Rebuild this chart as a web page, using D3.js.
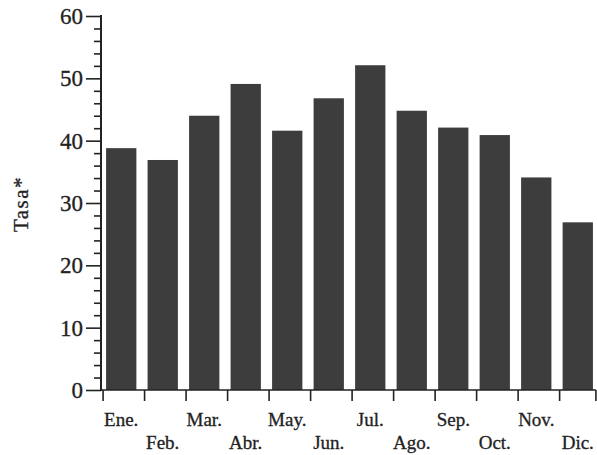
<!DOCTYPE html>
<html>
<head>
<meta charset="utf-8">
<script src="https://cdn.jsdelivr.net/npm/d3@7"></script>
<style>
  body { margin: 0; background: #fff; }
  svg { display: block; }
  text { font-family: "Liberation Serif", "DejaVu Serif", serif; fill: #222; stroke: #222; stroke-width: 0.3; }
</style>
</head>
<body>
<script>
var months = ["Ene.", "Feb.", "Mar.", "Abr.", "May.", "Jun.", "Jul.", "Ago.", "Sep.", "Oct.", "Nov.", "Dic."];
var tasa = [38.8, 36.9, 44.0, 49.1, 41.6, 46.8, 52.1, 44.8, 42.1, 40.9, 34.1, 26.9];
var majorTicks = [0, 10, 20, 30, 40, 50, 60];
var minorTicks = [2, 4, 6, 8, 12, 14, 16, 18, 22, 24, 26, 28, 32, 34, 36, 38, 42, 44, 46, 48, 52, 54, 56, 58];
var yLabel = "Tasa*";

var width = 597;
var height = 455;

var margin_left = 101;
var margin_top = 16;
var bottom = 390;

var ink = "#222";
var barColor = "#3d3d3d";

var svg = d3.select("body").append("svg")
    .attr("width", width)
    .attr("height", height);

var xScale = d3.scaleBand()
    .domain(months)
    .range([104, 595])
    .paddingInner(0.27)
    .paddingOuter(0.05);

var yScale = d3.scaleLinear()
    .domain([0, 60])
    .range([bottom, margin_top]);

function drawBars() {
    svg.append("g")
        .selectAll("rect")
        .data(tasa)
        .enter()
        .append("rect")
        .attr("x", (d, i) => xScale(months[i]))
        .attr("y", d => yScale(d))
        .attr("width", xScale.bandwidth())
        .attr("height", d => yScale(0) - yScale(d))
        .attr("fill", barColor);
}

function drawYAxis() {
    var minor = d3.axisLeft(yScale)
        .tickValues(minorTicks)
        .tickSize(7)
        .tickFormat("");

    var major = d3.axisLeft(yScale)
        .tickValues(majorTicks)
        .tickSize(15)
        .tickPadding(3)
        .tickFormat(d3.format("d"));

    var g1 = svg.append("g")
        .attr("transform", "translate(" + margin_left + ",0)")
        .call(minor);
    g1.select(".domain").remove();
    g1.selectAll("line").attr("stroke", ink).attr("stroke-width", 1.6);

    var g2 = svg.append("g")
        .attr("transform", "translate(" + margin_left + ",0)")
        .call(major);
    g2.select(".domain").remove();
    g2.selectAll("line").attr("stroke", ink).attr("stroke-width", 1.6);
    g2.selectAll("text")
        .attr("font-size", 23)
        .attr("font-family", "Liberation Serif")
        .attr("fill", ink);

    svg.append("line")
        .attr("x1", margin_left).attr("x2", margin_left)
        .attr("y1", yScale(60) - 1).attr("y2", yScale(0) + 1)
        .attr("stroke", ink)
        .attr("stroke-width", 2);

    svg.append("text")
        .attr("transform", "translate(28," + 204 + ") rotate(-90)")
        .attr("text-anchor", "middle")
        .attr("font-size", 21)
        .attr("letter-spacing", 1.5)
        .attr("fill", ink)
        .text(yLabel);
}

function drawXAxis() {
    var edges = months.map(m => xScale(m) - 3);
    edges.push(xScale(months[months.length - 1]) + xScale.bandwidth() + 3);

    svg.append("line")
        .attr("x1", margin_left).attr("x2", edges[edges.length - 1])
        .attr("y1", yScale(0)).attr("y2", yScale(0))
        .attr("stroke", ink)
        .attr("stroke-width", 1.6);

    svg.append("g")
        .selectAll("line")
        .data(edges)
        .enter()
        .append("line")
        .attr("x1", d => d).attr("x2", d => d)
        .attr("y1", yScale(0)).attr("y2", yScale(0) + 11)
        .attr("stroke", ink)
        .attr("stroke-width", 1.6);

    svg.append("g")
        .selectAll("text")
        .data(months)
        .enter()
        .append("text")
        .attr("x", d => xScale(d) + xScale.bandwidth() / 2)
        .attr("y", (d, i) => i % 2 == 0 ? 426 : 449)
        .attr("text-anchor", "middle")
        .attr("font-size", 19)
        .text(d => d);
}

drawBars();
drawYAxis();
drawXAxis();
</script>
</body>
</html>
